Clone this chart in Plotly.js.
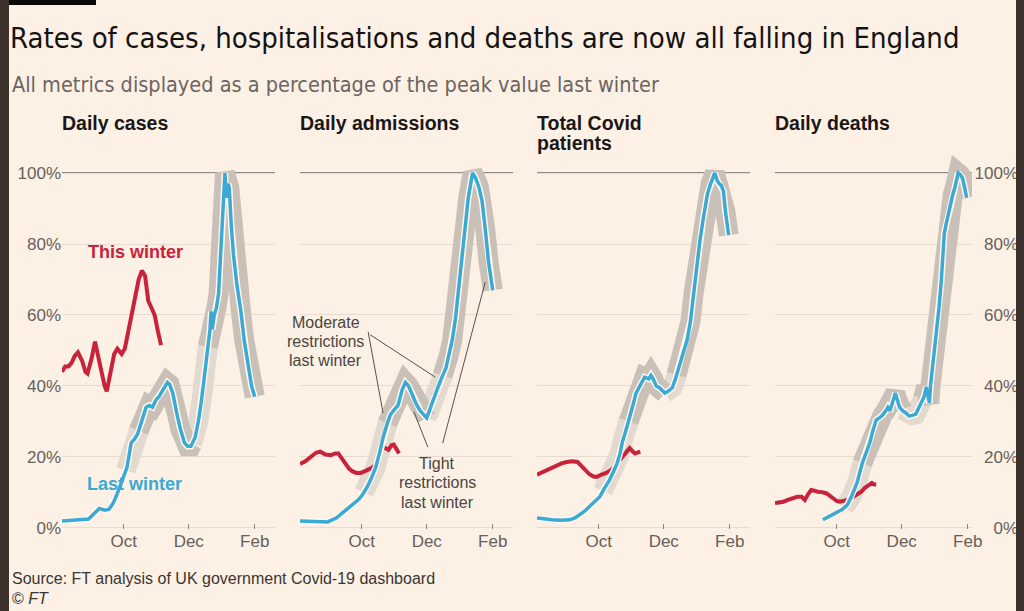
<!DOCTYPE html>
<html>
<head>
<meta charset="utf-8">
<script src="https://cdn.plot.ly/plotly-3.0.1.min.js"></script>
<style>
  html, body { margin: 0; padding: 0; background: #FDF0E5; }
  #chart { width: 1024px; height: 611px; }
</style>
</head>
<body>
<div id="chart"></div>
<script>
// ---------------- DATA (percent of last winter's peak) ----------------
const panelTitles = [['Daily cases'], ['Daily admissions'], ['Total Covid', 'patients'], ['Daily deaths']];
const tickDates = ['2020-10-01', '2020-12-01', '2021-02-01'];
const tickLabels = ['Oct', 'Dec', 'Feb'];
const yTicks = [0, 20, 40, 60, 80, 100];
const yTickLabels = ['0%', '20%', '40%', '60%', '80%', '100%'];
const moderateNote = ['Moderate', 'restrictions', 'last winter'];
const tightNote = ['Tight', 'restrictions', 'last winter'];

// Daily cases
const casesLastDates = ['2020-08-04','2020-08-15','2020-08-29','2020-09-03','2020-09-08','2020-09-13','2020-09-17','2020-09-21','2020-09-24','2020-09-29','2020-10-04','2020-10-08','2020-10-11','2020-10-14','2020-10-18','2020-10-22','2020-10-25','2020-10-28','2020-10-31','2020-11-03','2020-11-06','2020-11-11','2020-11-13','2020-11-16','2020-11-20','2020-11-23','2020-11-27','2020-11-30','2020-12-03','2020-12-07','2020-12-10','2020-12-13','2020-12-17','2020-12-21','2020-12-22','2020-12-23','2020-12-25','2020-12-27','2020-12-29','2021-01-01','2021-01-03','2021-01-04','2021-01-05','2021-01-06','2021-01-07','2021-01-08','2021-01-10','2021-01-12','2021-01-15','2021-01-19','2021-01-22','2021-01-26','2021-01-29','2021-02-01'];
const casesLast = [2,2.2,2.5,4,5.5,5,5.2,7,9,13,17,24,25,26.5,30,34,34.5,34,36,37,38.5,41,40.5,38,32,28,24,23,23,25.5,30,36,46,56,61,56,60,62,66,82,95,100,95,93,97,96,85,77,69,61,53,45,40,37];
const casesThisDates = ['2020-08-04','2020-08-07','2020-08-10','2020-08-13','2020-08-16','2020-08-19','2020-08-23','2020-08-26','2020-08-28','2020-09-01','2020-09-04','2020-09-07','2020-09-10','2020-09-13','2020-09-15','2020-09-18','2020-09-22','2020-09-25','2020-09-29','2020-10-02','2020-10-05','2020-10-08','2020-10-12','2020-10-15','2020-10-18','2020-10-21','2020-10-24','2020-10-27','2020-10-30','2020-11-02','2020-11-05'];
const casesThis = [44,45.5,45.5,46.5,48.5,49.5,47,44,43.5,48,52.5,48,44,40,38.5,43,49,50.5,49,50.5,55,60,65,70,72.5,71,64,62,60,55.5,51.5];

// Daily admissions
const admLastDates = ['2020-08-04','2020-08-15','2020-08-30','2020-09-07','2020-09-14','2020-09-21','2020-09-28','2020-10-02','2020-10-06','2020-10-10','2020-10-14','2020-10-18','2020-10-21','2020-10-25','2020-10-28','2020-11-01','2020-11-04','2020-11-08','2020-11-11','2020-11-14','2020-11-17','2020-11-21','2020-11-25','2020-12-01','2020-12-04','2020-12-08','2020-12-12','2020-12-16','2020-12-19','2020-12-22','2020-12-25','2020-12-28','2020-12-31','2021-01-03','2021-01-06','2021-01-09','2021-01-13','2021-01-16','2021-01-19','2021-01-22','2021-01-25','2021-01-28','2021-02-01'];
const admLast = [2,1.8,1.7,2.8,4.5,6.5,8,9.5,11.5,14,17,21.5,25.5,29.5,32,33.5,34.5,39,41,40,38,35,33,31,33.5,37,40,43,45,49,53,59,67,76,85,93,100,98.5,96,92,84,75,67];
const admThisDates = ['2020-08-04','2020-08-09','2020-08-14','2020-08-19','2020-08-23','2020-08-28','2020-09-02','2020-09-06','2020-09-09','2020-09-13','2020-09-16','2020-09-19','2020-09-22','2020-09-26','2020-09-30','2020-10-04','2020-10-07','2020-10-11','2020-10-14','2020-10-17','2020-10-20','2020-10-23','2020-10-26','2020-10-29','2020-10-31','2020-11-02','2020-11-05'];
const admThis = [18,18.8,20,21.2,21.5,20.7,20.5,21,21,19.5,18,16.7,16,15.5,15.5,16,16.5,17,18,20.5,22.5,22.5,22,23.3,23.5,22.5,21];

// Total Covid patients
const patLastDates = ['2020-08-04','2020-08-11','2020-08-18','2020-08-26','2020-09-04','2020-09-09','2020-09-13','2020-09-18','2020-09-22','2020-09-27','2020-10-02','2020-10-06','2020-10-11','2020-10-15','2020-10-18','2020-10-21','2020-10-23','2020-10-27','2020-10-30','2020-11-02','2020-11-05','2020-11-09','2020-11-13','2020-11-17','2020-11-19','2020-11-21','2020-11-24','2020-11-27','2020-11-30','2020-12-02','2020-12-05','2020-12-09','2020-12-12','2020-12-16','2020-12-19','2020-12-21','2020-12-23','2020-12-26','2020-12-29','2021-01-01','2021-01-04','2021-01-07','2021-01-11','2021-01-14','2021-01-18','2021-01-20','2021-01-22','2021-01-24','2021-01-26','2021-01-28','2021-01-31'];
const patLast = [2.8,2.5,2.3,2.2,2.3,2.9,3.7,4.8,6,7.3,8.8,11,13.5,16,18,21,24,28,31,34.5,38,40.5,42.5,42,43,42,40,39.5,38.5,38,38.5,39.5,42,46.5,49,51,53,58,66,74,81,87,94,97,100,98,97,96.5,95,89,82.5];
const patThisDates = ['2020-08-04','2020-08-08','2020-08-13','2020-08-17','2020-08-22','2020-08-27','2020-09-01','2020-09-06','2020-09-11','2020-09-15','2020-09-18','2020-09-22','2020-09-26','2020-09-29','2020-10-03','2020-10-08','2020-10-12','2020-10-16','2020-10-19','2020-10-22','2020-10-26','2020-10-30','2020-11-02','2020-11-04','2020-11-07','2020-11-09'];
const patThis = [15,15.6,16.3,17,17.7,18.2,18.6,18.8,18.6,17.5,16.3,15.2,14.5,14.4,15,15.5,16.2,17.2,18.5,19.7,21.2,22.5,21.5,21,21.3,21.5];

// Daily deaths
const dthLastDates = ['2020-09-18','2020-09-24','2020-10-01','2020-10-06','2020-10-11','2020-10-15','2020-10-20','2020-10-25','2020-10-29','2020-11-01','2020-11-04','2020-11-07','2020-11-10','2020-11-13','2020-11-16','2020-11-18','2020-11-20','2020-11-22','2020-11-25','2020-11-27','2020-11-29','2020-12-02','2020-12-05','2020-12-08','2020-12-11','2020-12-14','2020-12-16','2020-12-18','2020-12-20','2020-12-22','2020-12-24','2020-12-26','2020-12-27','2020-12-28','2020-12-30','2021-01-01','2021-01-03','2021-01-05','2021-01-07','2021-01-10','2021-01-12','2021-01-15','2021-01-18','2021-01-20','2021-01-23','2021-01-25','2021-01-27','2021-01-29','2021-01-31'];
const dthLast = [2.3,3.3,4.2,5.2,6.5,9,12.7,18.3,21.5,24,27.5,30.4,31,31.8,33,34,33,35.2,38,36,34,33,32.4,31.5,31.8,32,33.2,34.5,36,37,39.7,36,35.2,40,45.4,50,55,62,69,83,86,90.4,94,96,100,99.5,98.6,96,93];
const dthThisDates = ['2020-08-04','2020-08-08','2020-08-12','2020-08-16','2020-08-21','2020-08-25','2020-08-29','2020-09-01','2020-09-04','2020-09-07','2020-09-10','2020-09-13','2020-09-17','2020-09-21','2020-09-24','2020-09-27','2020-10-01','2020-10-04','2020-10-08','2020-10-11','2020-10-15','2020-10-20','2020-10-24','2020-10-27','2020-10-31','2020-11-03','2020-11-05','2020-11-07'];
const dthThis = [7,7.2,7.4,7.9,8.4,8.8,8.8,7.9,9.5,10.7,10.5,10.2,10.1,9.8,9.2,8.4,7.6,7.4,7.6,7.9,8.5,9.3,10.2,11.2,12.2,12.7,12.3,12.2];

// Restriction periods last winter, as they fall on each panel's timeline
const moderatePeriods = [
  [['2020-10-03','2020-10-17'],['2020-12-04','2020-12-20']],
  [['2020-10-03','2020-10-26'],['2020-12-01','2020-12-17']],
  [['2020-10-05','2020-10-30'],['2020-12-02','2020-12-14']],
  [['2020-10-08','2020-10-26'],['2020-12-01','2020-12-22']]
];
const tightPeriods = [
  [['2020-10-15','2020-12-04'],['2020-12-19','2021-02-01']],
  [['2020-10-25','2020-12-01'],['2020-12-16','2021-02-01']],
  [['2020-10-29','2020-12-02'],['2020-12-13','2021-01-31']],
  [['2020-10-25','2020-12-01'],['2020-12-21','2021-01-31']]
];

// ---------------- BUILD ----------------
const W = 1024, H = 611;
const FONT = 'Liberation Sans, Arial, sans-serif';
const NARROW = 'DejaVu Sans Condensed, Liberation Sans Narrow, Liberation Sans, sans-serif';
const C = {
  bg: '#FDF0E5', blue: '#3AAAD4', red: '#C8233B', halo: '#FFF7F0',
  light: '#E2D9CF', dark: '#C9C0B7', grid: '#E6DCD2', peak: '#6E6761',
  tick: '#66605B', text: '#1A1716', note: '#4A4541'
};

const lastDates = [casesLastDates, admLastDates, patLastDates, dthLastDates];
const lastVals  = [casesLast, admLast, patLast, dthLast];
const thisDates = [casesThisDates, admThisDates, patThisDates, dthThisDates];
const thisVals  = [casesThis, admThis, patThis, dthThis];

const ms = d => Date.parse(d + 'T00:00:00Z');
const iso = t => new Date(t).toISOString().slice(0, 10);
function valueAt(dates, vals, t) {
  for (let i = 0; i < dates.length - 1; i++) {
    const a = ms(dates[i]), b = ms(dates[i + 1]);
    if (t >= a && t <= b) return vals[i] + (vals[i + 1] - vals[i]) * (t - a) / (b - a);
  }
  return t <= ms(dates[0]) ? vals[0] : vals[vals.length - 1];
}
function segment(dates, vals, start, end) {
  const s = Math.max(ms(start), ms(dates[0]));
  const e = Math.min(ms(end), ms(dates[dates.length - 1]));
  const xs = [iso(s)], ys = [valueAt(dates, vals, s)];
  for (let i = 0; i < dates.length; i++) {
    const t = ms(dates[i]);
    if (t > s && t < e) { xs.push(dates[i]); ys.push(vals[i]); }
  }
  xs.push(iso(e)); ys.push(valueAt(dates, vals, e));
  return { xs, ys };
}

const domainsPx = [[62, 275], [300, 513], [537, 750], [775, 972]];
const xRanges = [
  ['2020-08-04', '2021-02-20'], ['2020-08-04', '2021-02-20'],
  ['2020-08-04', '2021-02-20'], ['2020-08-04', '2021-02-05']
];
const yRange = [-0.4, 105];
const yDomain = [(H - 529.4) / H, (H - 155.25) / H];

const traces = [];
const layout = {
  width: W, height: H,
  margin: { l: 0, r: 0, t: 0, b: 0 },
  paper_bgcolor: C.bg, plot_bgcolor: 'rgba(0,0,0,0)',
  showlegend: false,
  font: { family: FONT, color: C.text },
  title: {
    text: 'Rates of cases, hospitalisations and deaths are now all falling in England',
    font: { family: NARROW, size: 29, color: '#151312' },
    x: 10 / W, xanchor: 'left', xref: 'paper',
    y: 1 - 38 / H, yanchor: 'middle', yref: 'container'
  },
  annotations: [], shapes: []
};

const lineAnn = (txt, xref, yref, x, y, xanchor, font) => ({
  text: txt, xref, yref, x, y, xanchor, yanchor: 'middle', showarrow: false, font
});
const tickFont = { family: FONT, size: 17, color: C.tick };

for (let p = 0; p < 4; p++) {
  const n = p === 0 ? '' : String(p + 1);
  const xa = 'x' + n, ya = 'y' + n;
  [[moderatePeriods[p], C.light], [tightPeriods[p], C.dark]].forEach(([periods, col]) => {
    periods.forEach(([s, e]) => {
      const seg = segment(lastDates[p], lastVals[p], s, e);
      traces.push({ x: seg.xs, y: seg.ys, xaxis: xa, yaxis: ya, mode: 'lines',
        line: { color: col, width: 20 }, hoverinfo: 'skip' });
    });
  });
  traces.push({ x: thisDates[p], y: thisVals[p], xaxis: xa, yaxis: ya, mode: 'lines',
    line: { color: C.red, width: 4 }, name: 'This winter' });
  traces.push({ x: lastDates[p], y: lastVals[p], xaxis: xa, yaxis: ya, mode: 'lines',
    line: { color: C.halo, width: 6.5 }, hoverinfo: 'skip' });
  traces.push({ x: lastDates[p], y: lastVals[p], xaxis: xa, yaxis: ya, mode: 'lines',
    line: { color: C.blue, width: 3.5 }, name: 'Last winter' });

  layout['xaxis' + n] = {
    type: 'date', domain: [domainsPx[p][0] / W, domainsPx[p][1] / W], range: xRanges[p],
    anchor: ya, tickmode: 'array', tickvals: tickDates, ticktext: tickLabels,
    showgrid: false, zeroline: false, showline: false,
    ticks: 'inside', ticklen: 5, tickwidth: 1, tickcolor: '#8F867F',
    tickfont: tickFont, fixedrange: true
  };
  layout['yaxis' + n] = {
    domain: yDomain, range: yRange, anchor: xa,
    tickmode: 'array', tickvals: yTicks, ticktext: yTickLabels,
    showticklabels: p === 0, side: 'left',
    showgrid: true, gridcolor: C.grid, gridwidth: 1, zeroline: false, showline: false,
    ticks: '', tickfont: tickFont, fixedrange: true
  };
  layout.shapes.push({ type: 'line', xref: xa + ' domain', x0: 0, x1: 1, yref: ya, y0: 100, y1: 100,
    line: { color: C.peak, width: 1.3 }, layer: 'below' });
  panelTitles[p].forEach((t, k) => {
    layout.annotations.push(lineAnn('<b>' + t + '</b>', 'paper', 'paper',
      (domainsPx[p][0] - 2) / W, 1 - (123 + 20 * k) / H, 'left',
      { family: FONT, size: 19.5, color: C.text }));
  });
}
// right-hand percentage labels (right-aligned against the frame)
layout.yaxis5 = {
  overlaying: 'y4', anchor: 'free', position: 1018 / W, side: 'left',
  range: yRange, tickmode: 'array', tickvals: yTicks, ticktext: yTickLabels,
  showgrid: false, zeroline: false, showline: false, ticks: '',
  tickfont: tickFont, fixedrange: true
};
traces.push({ x: [], y: [], xaxis: 'x4', yaxis: 'y5', mode: 'lines', hoverinfo: 'skip' });

layout.annotations.push(
  lineAnn('All metrics displayed as a percentage of the peak value last winter', 'paper', 'paper',
    10 / W, 1 - 84 / H, 'left', { family: NARROW, size: 21.5, color: '#6B6560' }),
  lineAnn('Source: FT analysis of UK government Covid-19 dashboard', 'paper', 'paper',
    10 / W, 1 - 578 / H, 'left', { family: FONT, size: 16, color: '#3A3633' }),
  lineAnn('© <i>FT</i>', 'paper', 'paper', 10 / W, 1 - 598 / H, 'left',
    { family: FONT, size: 16, color: '#3A3633' }),
  lineAnn('<b>This winter</b>', 'x', 'y', '2020-10-12', 77.7, 'center',
    { family: FONT, size: 18, color: C.red }),
  lineAnn('<b>Last winter</b>', 'x', 'y', '2020-10-11', 12.4, 'center',
    { family: FONT, size: 18, color: C.blue })
);
moderateNote.forEach((t, k) => layout.annotations.push(
  lineAnn(t, 'x2', 'y2', '2020-08-28', 57.8 - 5.35 * k, 'center', { family: FONT, size: 16, color: C.note })));
tightNote.forEach((t, k) => layout.annotations.push(
  lineAnn(t, 'x2', 'y2', '2020-12-11', 18.3 - 5.6 * k, 'center', { family: FONT, size: 16, color: C.note })));

const leader = { color: '#57514C', width: 1 };
layout.shapes.push(
  { type: 'line', xref: 'x2', yref: 'y2', x0: '2020-10-07', y0: 55.2, x1: '2020-10-21', y1: 32.4, line: leader },
  { type: 'line', xref: 'x2', yref: 'y2', x0: '2020-10-09', y0: 54.4, x1: '2020-12-09', y1: 42.5, line: leader },
  { type: 'line', xref: 'x2', yref: 'y2', x0: '2020-12-02', y0: 22.8, x1: '2020-11-19', y1: 32.7, line: leader },
  { type: 'line', xref: 'x2', yref: 'y2', x0: '2020-12-16', y0: 23.9, x1: '2021-01-25', y1: 69.3, line: leader },
  { type: 'rect', xref: 'paper', yref: 'paper', x0: 0, x1: 9 / W, y0: 0, y1: 1, fillcolor: '#3C312B', line: { width: 0 }, layer: 'above' },
  { type: 'rect', xref: 'paper', yref: 'paper', x0: 1016 / W, x1: 1, y0: 0, y1: 1, fillcolor: '#3C312B', line: { width: 0 }, layer: 'above' },
  { type: 'rect', xref: 'paper', yref: 'paper', x0: 9 / W, x1: 96 / W, y0: 1 - 5 / H, y1: 1, fillcolor: '#0B0908', line: { width: 0 }, layer: 'above' }
);

Plotly.newPlot('chart', traces, layout, { displayModeBar: false, staticPlot: true });
</script>
</body>
</html>
